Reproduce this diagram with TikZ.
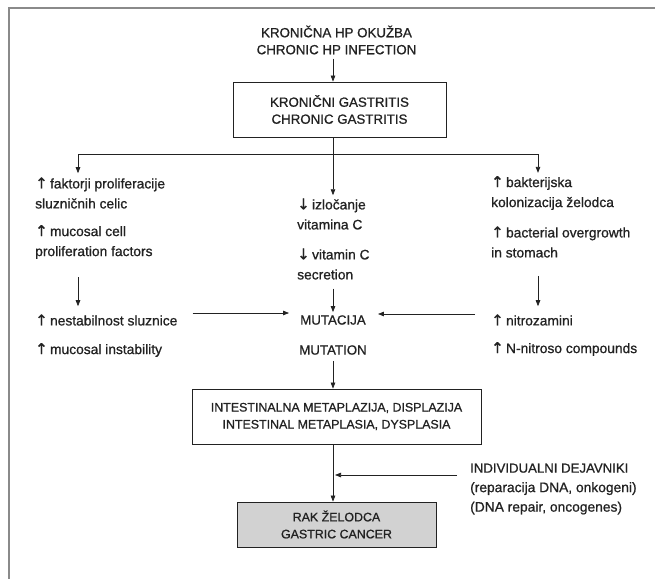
\documentclass[tikz,border=0pt]{standalone}
\usepackage{fontspec}
\setmainfont[FakeBold=0.9]{Liberation Sans}
\newfontfamily\symf[FakeBold=0.9]{DejaVu Sans}
\usetikzlibrary{arrows.meta,calc}
\definecolor{ink}{HTML}{222222}
\definecolor{frameg}{HTML}{8A8A8A}
\definecolor{cancerfill}{HTML}{D2D2D2}
\newcommand{\arrup}{{\symf\fontsize{15}{15}\selectfont\char"2191}\,}
\newcommand{\arrdn}{{\symf\fontsize{15}{15}\selectfont\char"2193}\,}
\begin{document}
\begin{tikzpicture}[x=1pt,y=-1pt,
  every node/.style={text=ink, inner sep=0pt},
  lc/.style={font=\fontsize{13.8}{20}\selectfont, align=left, anchor=west},
  capsA/.style={font=\fontsize{13.3}{17}\selectfont, align=center},
  capsB/.style={font=\fontsize{12.4}{17}\selectfont, align=center},
  framebox/.style={draw=ink, line width=0.8pt},
  arr/.style={draw=ink, line width=0.75pt, -{Triangle[length=6pt,width=4.5pt]}},
  ln/.style={draw=ink, line width=0.75pt},
  outer/.style={draw=frameg, line width=1.2pt}]
\useasboundingbox (0,0) rectangle (655,579);
\draw[outer] (655,8) -- (9,8) -- (9,579);

% trunk coordinates
\coordinate (trunk) at (333,0);

% top
\node[capsA] (hp) at (336.5,40) {KRONIČNA HP OKUŽBA\\CHRONIC HP INFECTION};
\node[framebox, capsA, minimum width=213pt, minimum height=55pt, inner sep=0pt] (gas) at (339.5,109.5)
  {\fontsize{13.3}{20}\selectfont KRONIČNI GASTRITIS\\CHRONIC GASTRITIS};
\draw[arr] ([yshift=-4pt]hp.south -| trunk) -- (gas.north -| trunk);

% branch
\coordinate (bl) at (78,154);
\coordinate (bc) at (333,154);
\coordinate (bR) at (538,154);

% left column
\node[lc] (l1) at (35,193) {\arrup faktorji proliferacije\\sluzničnih celic};
\node[lc] (l2) at (35,242) {\arrup mucosal cell\\proliferation factors};
\node[lc] (l3) at (35,320) {\arrup nestabilnost sluznice};
\node[lc] (l4) at (35,350) {\arrup mucosal instability};

% center column
\node[lc] (c1) at (297,214) {\arrdn izločanje\\vitamina C};
\node[lc] (c2) at (297,264) {\arrdn vitamin C\\secretion};
\node[capsA] (m1) at (333,320) {MUTACIJA};
\node[capsA] (m2) at (333,350) {MUTATION};

% right column
\node[lc] (r1) at (491,193) {\arrup bakterijska\\kolonizacija želodca};
\node[lc] (r2) at (491,242) {\arrup bacterial overgrowth\\in stomach};
\node[lc] (r3) at (491,320) {\arrup nitrozamini};
\node[lc] (r4) at (491,349) {\arrup N-nitroso compounds};

% lower boxes
\node[framebox, capsB, minimum width=289pt, minimum height=55pt] (im) at (336.5,416.5)
  {\fontsize{12.4}{22}\selectfont INTESTINALNA METAPLAZIJA, DISPLAZIJA\\INTESTINAL METAPLASIA, DYSPLASIA};
\node[framebox, capsB, fill=cancerfill, minimum width=199pt, minimum height=45pt] (gc) at (336.5,524.5)
  {RAK ŽELODCA\\GASTRIC CANCER};
\node[lc, font=\fontsize{13.2}{19.5}\selectfont] (ind) at (470,489)
  {INDIVIDUALNI DEJAVNIKI\\{\fontsize{13.8}{19.5}\selectfont(reparacija DNA, onkogeni)}\\{\fontsize{13.8}{19.5}\selectfont(DNA repair, oncogenes)}};

% connectors
\draw[arr] (gas.south -| trunk) -- ([yshift=3pt]c1.north -| trunk);
\draw[ln] (bl) -- (bR);
\draw[arr] (bl) -- ([yshift=4pt]l1.north -| bl);
\draw[arr] (bR) -- ([yshift=3pt]r1.north -| bR);
\draw[arr, shorten <=18pt, shorten >=8pt] (l2.south -| bl) -- (l3.north -| bl);
\draw[arr, shorten <=18pt, shorten >=8pt] (r2.south -| bR) -- (r3.north -| bR);
\draw[arr, shorten <=9pt, shorten >=3pt] (c2.south -| trunk) -- (m1.north -| trunk);
\draw[arr, shorten <=6pt] (m2.south -| trunk) -- (im.north -| trunk);
\draw[arr, shorten <=15pt, shorten >=11pt] ([yshift=7pt]l3.east) -- ([yshift=7pt]l3.east -| m1.west);
\draw[arr, shorten <=16pt, shorten >=12pt] ([yshift=6pt]r3.west) -- ([yshift=6pt]r3.west -| m1.east);
\draw[arr] (im.south -| trunk) -- (gc.north -| trunk);
\coordinate (ie) at (457,475);
\draw[arr] (ie) -- (ie -| 335,0);
\end{tikzpicture}
\end{document}
